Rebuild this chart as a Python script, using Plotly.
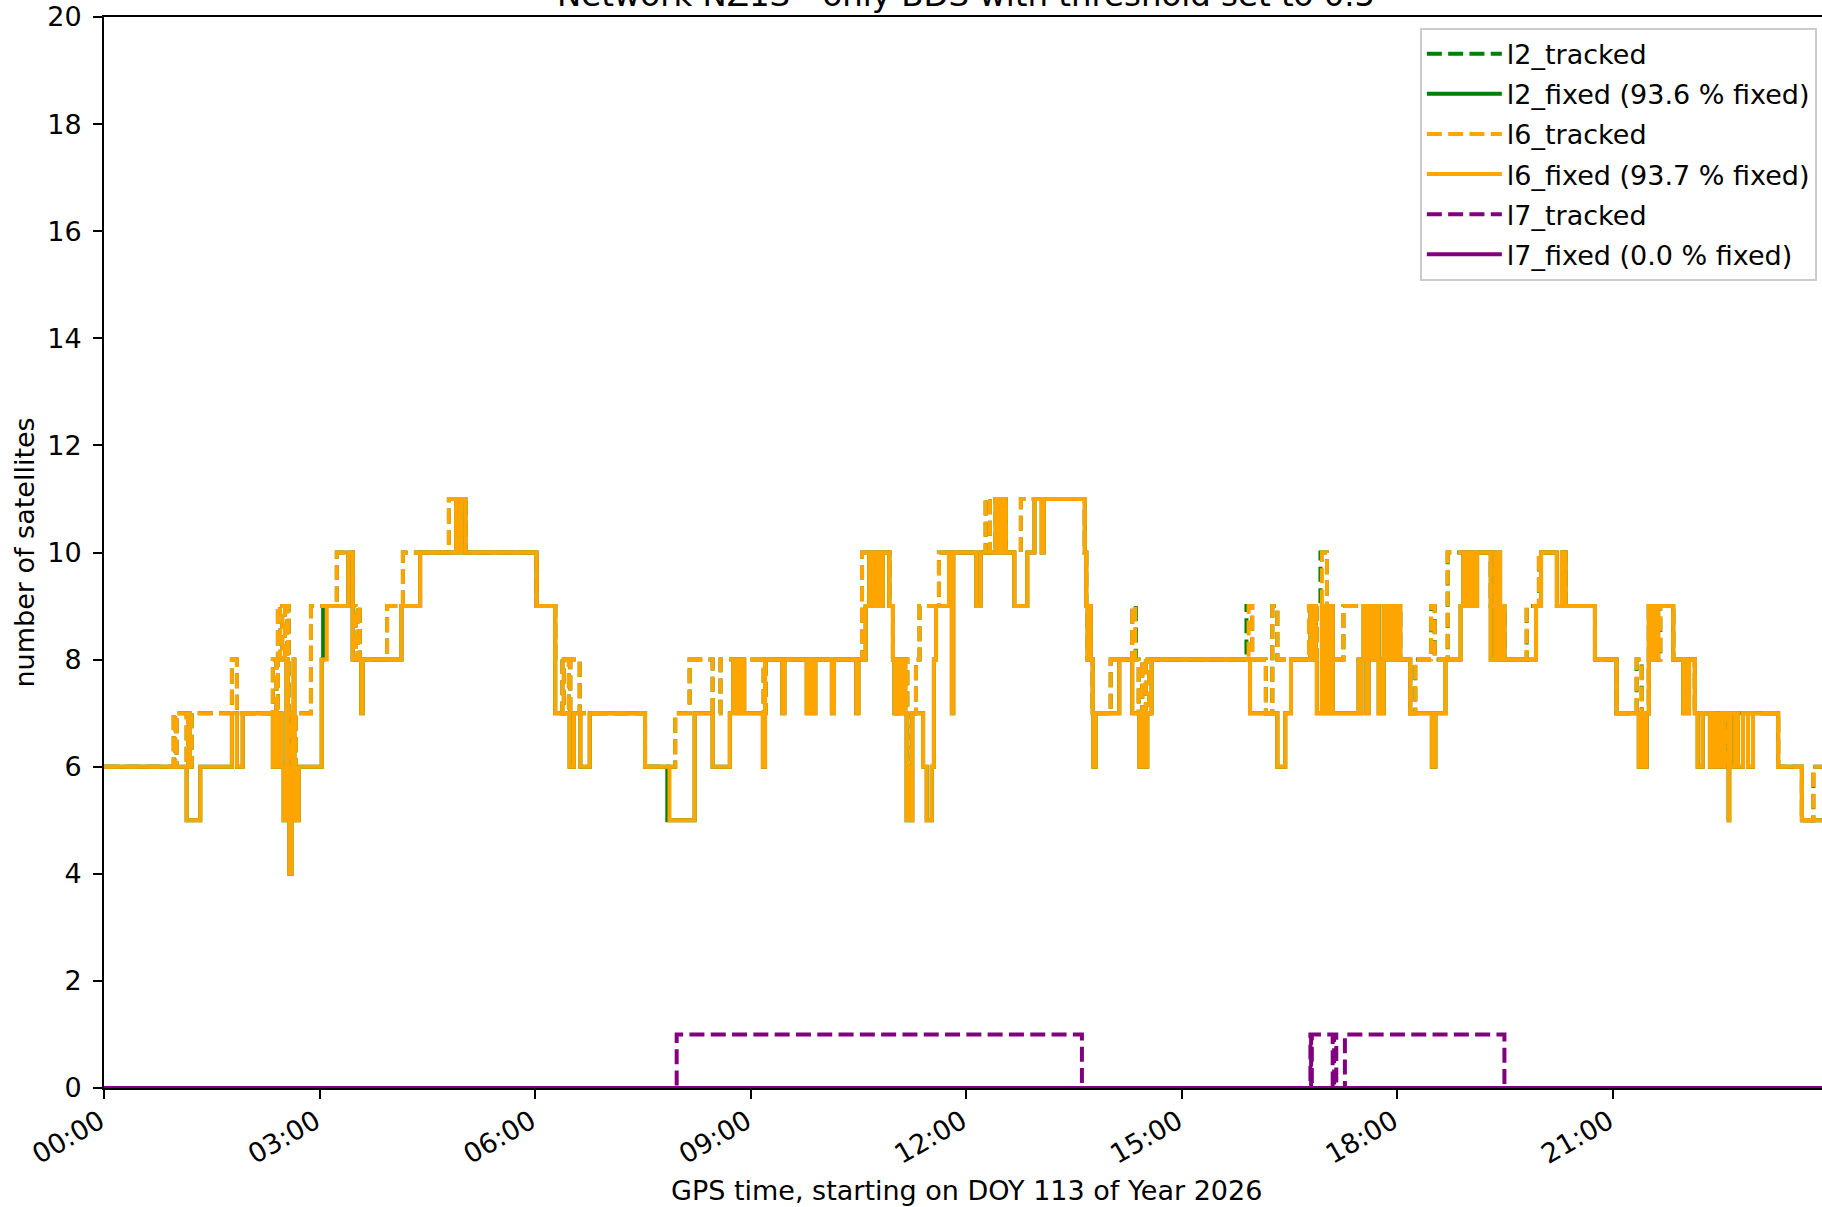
import pandas as pd
import plotly.graph_objects as go

DAY = "2026-04-23"
END_H = 24.0
RANGE_END_H = 23.91

TITLE = "Network NZ1S - only BDS with threshold set to 0.5"
X_LABEL = "GPS time, starting on DOY 113 of Year 2026"
Y_LABEL = "number of satellites"

# ---- l6 fixed (hours, satellites) ----
l6_fixed_t = [0.00, 1.15, 1.34, 1.78, 1.85, 1.93, 2.35, 2.37, 2.39, 2.41, 2.43, 2.45, 2.47, 2.50, 2.52, 2.54,
              2.56, 2.58, 2.61, 2.62, 2.64, 2.65, 2.67, 2.69, 2.71, 3.03, 3.10, 3.40, 3.46, 3.58, 3.60, 4.14,
              4.40, 4.90, 4.94, 4.97, 5.03, 6.02, 6.28, 6.48, 6.54, 6.63, 6.76, 7.53, 7.87, 8.22, 8.47, 8.71,
              8.76, 8.79, 8.82, 8.85, 8.88, 8.91, 9.17, 9.20, 9.44, 9.47, 9.78, 9.83, 9.86, 9.90, 10.13, 10.16,
              10.47, 10.50, 10.60, 10.65, 10.70, 10.72, 10.76, 10.78, 10.82, 10.84, 10.93, 10.98, 11.00, 11.05,
              11.08, 11.12, 11.15, 11.17, 11.20, 11.22, 11.25, 11.40, 11.45, 11.52, 11.55, 11.58, 11.76, 11.80,
              11.82, 12.14, 12.20, 12.41, 12.45, 12.47, 12.50, 12.52, 12.55, 12.67, 12.85, 12.95, 13.05, 13.08,
              13.65, 13.67, 13.69, 13.71, 13.73, 13.76, 13.77, 13.80, 14.13, 14.31, 14.41, 14.43, 14.45, 14.48,
              14.50, 14.52, 14.58, 15.95, 16.33, 16.44, 16.52, 16.79, 16.82, 16.84, 16.86, 16.88, 16.95, 16.99,
              17.02, 17.05, 17.08, 17.10, 17.46, 17.48, 17.50, 17.53, 17.55, 17.57, 17.60, 17.63, 17.65, 17.68,
              17.70, 17.74, 17.76, 17.78, 17.81, 17.84, 17.88, 17.91, 17.94, 17.97, 18.00, 18.04, 18.18, 18.48,
              18.53, 18.67, 18.88, 18.92, 18.95, 18.98, 19.01, 19.04, 19.07, 19.11, 19.30, 19.36, 19.38, 19.40,
              19.43, 19.46, 19.49, 19.93, 20.00, 20.22, 20.29, 20.34, 20.75, 21.05, 21.36, 21.40, 21.42, 21.47,
              21.50, 21.55, 21.57, 21.60, 21.62, 21.84, 21.98, 22.00, 22.03, 22.06, 22.14, 22.18, 22.25, 22.35,
              22.38, 22.40, 22.43, 22.45, 22.47, 22.51, 22.55, 22.61, 22.62, 22.64, 22.70, 22.74, 22.81, 22.88,
              22.95, 23.30, 23.63]
l6_fixed_v = [6, 5, 6, 7, 6, 7, 6, 7, 6, 7, 6, 7, 6, 5, 6, 8,
              5, 4, 6, 5, 8, 5, 6, 5, 6, 8, 9, 10, 8, 7, 8, 9,
              10, 11, 10, 11, 10, 9, 7, 6, 7, 6, 7, 6, 5, 7, 6, 7,
              8, 7, 8, 7, 8, 7, 6, 8, 7, 8, 7, 8, 7, 8, 7, 8,
              7, 8, 9, 10, 9, 10, 9, 10, 9, 10, 9, 8, 7, 8,
              7, 8, 7, 5, 6, 5, 7, 6, 5, 6, 8, 9, 10, 7,
              10, 9, 10, 11, 10, 11, 10, 11, 10, 9, 10, 11, 10, 11,
              10, 9, 8, 9, 8, 7, 6, 7, 8, 7, 6, 7, 6, 7,
              6, 7, 8, 7, 6, 7, 8, 9, 8, 9, 8, 7, 9, 7,
              9, 7, 9, 7, 8, 7, 8, 9, 8, 7, 9, 8, 9, 8,
              9, 7, 8, 7, 9, 8, 9, 8, 9, 8, 9, 8, 7, 6,
              7, 8, 9, 10, 9, 10, 9, 10, 9, 10, 8, 10, 8, 10,
              8, 9, 8, 9, 10, 9, 10, 9, 8, 7, 6, 7, 6, 7,
              9, 8, 9, 8, 9, 8, 7, 8, 7, 8, 7, 6, 7, 6,
              7, 6, 7, 6, 7, 6, 7, 5, 7, 6, 7, 6, 7, 6,
              7, 6, 5]

# ---- l6 tracked ----
l6_tracked_t = [0.00, 0.97, 0.99, 1.01, 1.15, 1.17, 1.19, 1.22, 1.78, 1.85, 2.35, 2.40, 2.42, 2.45, 2.48, 2.52,
                2.55, 2.57, 2.60, 2.62, 2.64, 2.67, 2.88, 3.24, 3.46, 3.50, 3.53, 3.56, 3.94, 4.16, 4.80, 5.03,
                6.02, 6.28, 6.38, 6.40, 6.47, 6.49, 6.62, 7.53, 7.95, 8.15, 8.47, 8.58, 9.18, 9.21, 10.55, 10.93,
                10.98, 11.03, 11.06, 11.12, 11.15, 11.18, 11.24, 11.30, 11.35, 11.62, 12.27, 12.33, 12.41, 12.55,
                12.76, 13.65, 13.67, 13.69, 13.71, 13.73, 13.76, 14.01, 14.31, 14.35, 14.40, 14.45, 14.50, 14.55,
                15.93, 15.98, 16.17, 16.26, 16.33, 16.77, 16.86, 16.88, 16.95, 17.02, 17.05, 17.08, 17.10, 17.25,
                18.04, 18.18, 18.25, 18.47, 18.52, 18.70, 19.30, 19.49, 19.80, 19.97, 20.34, 20.75, 21.05, 21.33,
                21.40, 21.50, 21.63, 21.66, 21.84, 22.14, 22.57, 22.61, 23.30, 23.63, 23.79]
l6_tracked_v = [6, 7, 6, 7, 6, 7, 6, 7, 8, 7, 8, 7, 9, 8, 9, 8,
                9, 7, 6, 7, 6, 7, 9, 10, 9, 8, 9, 8, 9, 10, 11, 10,
                9, 8, 7, 8, 7, 8, 7, 6, 7, 8, 7, 8, 7, 8, 10, 9,
                8, 7, 8, 7, 8, 6, 7, 8, 9, 10, 11, 10, 11, 10,
                11, 10, 9, 8, 9, 8, 7, 8, 9, 8, 7, 8, 7, 8,
                9, 8, 7, 9, 8, 9, 8, 9, 10, 9, 8, 9, 8, 9,
                8, 7, 8, 9, 8, 10, 9, 8, 9, 10, 9, 8, 7, 8,
                7, 9, 8, 9, 8, 7, 6, 7, 6, 5, 6]

# ---- l2 fixed ----
l2_fixed_t = [0.00, 1.15, 1.34, 1.78, 1.85, 1.93, 2.35, 2.37, 2.39, 2.41, 2.43, 2.45, 2.47, 2.50, 2.52, 2.54,
              2.56, 2.58, 2.61, 2.62, 2.64, 2.65, 2.67, 2.69, 2.71, 3.03, 3.05, 3.40, 3.46, 3.58, 3.60, 4.14,
              4.40, 4.90, 4.94, 4.97, 5.03, 6.02, 6.28, 6.48, 6.54, 6.63, 6.76, 7.53, 7.84, 8.22, 8.47, 8.71,
              8.76, 8.79, 8.82, 8.85, 8.88, 8.91, 9.17, 9.20, 9.44, 9.47, 9.78, 9.83, 9.86, 9.90, 10.13, 10.16,
              10.47, 10.50, 10.60, 10.65, 10.70, 10.72, 10.76, 10.78, 10.82, 10.84, 10.93, 10.98, 11.00, 11.05,
              11.08, 11.12, 11.15, 11.17, 11.20, 11.22, 11.25, 11.40, 11.45, 11.52, 11.55, 11.58, 11.76, 11.80,
              11.82, 12.14, 12.20, 12.41, 12.45, 12.47, 12.50, 12.52, 12.55, 12.67, 12.85, 12.95, 13.05, 13.08,
              13.65, 13.67, 13.69, 13.71, 13.73, 13.76, 13.77, 13.80, 14.13, 14.31, 14.41, 14.43, 14.45, 14.48,
              14.50, 14.52, 14.58, 15.95, 16.33, 16.44, 16.52, 16.79, 16.82, 16.84, 16.86, 16.88, 16.95, 16.99,
              17.02, 17.05, 17.08, 17.10, 17.46, 17.48, 17.50, 17.53, 17.55, 17.57, 17.60, 17.63, 17.65, 17.68,
              17.70, 17.74, 17.76, 17.78, 17.81, 17.84, 17.88, 17.91, 17.94, 17.97, 18.00, 18.04, 18.18, 18.48,
              18.53, 18.67, 18.88, 18.92, 18.95, 18.98, 19.01, 19.04, 19.07, 19.11, 19.30, 19.36, 19.38, 19.40,
              19.43, 19.46, 19.49, 19.93, 20.00, 20.22, 20.29, 20.34, 20.75, 21.05, 21.36, 21.40, 21.42, 21.47,
              21.50, 21.55, 21.57, 21.60, 21.62, 21.84, 21.98, 22.00, 22.03, 22.06, 22.14, 22.18, 22.25, 22.35,
              22.38, 22.40, 22.43, 22.45, 22.47, 22.51, 22.55, 22.61, 22.62, 22.64, 22.70, 22.74, 22.81, 22.88,
              22.95, 23.30, 23.63]
l2_fixed_v = [6, 5, 6, 7, 6, 7, 6, 7, 6, 7, 6, 7, 6, 5, 6, 8,
              5, 4, 6, 5, 8, 5, 6, 5, 6, 8, 9, 10, 8, 7, 8, 9,
              10, 11, 10, 11, 10, 9, 7, 6, 7, 6, 7, 6, 5, 7, 6, 7,
              8, 7, 8, 7, 8, 7, 6, 8, 7, 8, 7, 8, 7, 8, 7, 8,
              7, 8, 9, 10, 9, 10, 9, 10, 9, 10, 9, 8, 7, 8,
              7, 8, 7, 5, 6, 5, 7, 6, 5, 6, 8, 9, 10, 7,
              10, 9, 10, 11, 10, 11, 10, 11, 10, 9, 10, 11, 10, 11,
              10, 9, 8, 9, 8, 7, 6, 7, 8, 7, 6, 7, 6, 7,
              6, 7, 8, 7, 6, 7, 8, 9, 8, 9, 8, 7, 9, 7,
              9, 7, 9, 7, 8, 7, 8, 9, 8, 7, 9, 8, 9, 8,
              9, 7, 8, 7, 9, 8, 9, 8, 9, 8, 9, 8, 7, 6,
              7, 8, 9, 10, 9, 10, 9, 10, 9, 10, 8, 10, 8, 10,
              8, 9, 8, 9, 10, 9, 10, 9, 8, 7, 6, 7, 6, 7,
              9, 8, 9, 8, 9, 8, 7, 8, 7, 8, 7, 6, 7, 6,
              7, 6, 7, 6, 7, 6, 7, 5, 7, 6, 7, 6, 7, 6,
              7, 6, 5]

# ---- l2 tracked ----
l2_tracked_t = [0.00, 0.97, 0.99, 1.01, 1.15, 1.17, 1.19, 1.22, 1.78, 1.85, 2.35, 2.40, 2.42, 2.45, 2.48, 2.52,
                2.55, 2.57, 2.60, 2.62, 2.64, 2.67, 2.88, 3.24, 3.46, 3.50, 3.53, 3.56, 3.94, 4.16, 4.80, 5.03,
                6.02, 6.28, 6.38, 6.40, 6.47, 6.49, 6.62, 7.53, 7.95, 8.15, 8.47, 8.58, 9.18, 9.21, 10.55, 10.93,
                10.98, 11.03, 11.06, 11.12, 11.15, 11.18, 11.24, 11.30, 11.35, 11.62, 12.27, 12.33, 12.41, 12.55,
                12.76, 13.65, 13.67, 13.69, 13.71, 13.73, 13.76, 14.01, 14.31, 14.36, 14.40, 14.45, 14.50, 14.55,
                15.90, 15.98, 16.17, 16.26, 16.33, 16.77, 16.86, 16.88, 16.93, 17.02, 17.05, 17.08, 17.10, 17.25,
                17.60, 17.62, 18.04, 18.18, 18.25, 18.47, 18.52, 18.70, 19.30, 19.49, 19.80, 19.97, 20.34, 20.75,
                21.05, 21.33, 21.40, 21.50, 21.63, 21.66, 21.84, 22.14, 22.57, 22.61, 23.30, 23.63, 23.79]
l2_tracked_v = [6, 7, 6, 7, 6, 7, 6, 7, 8, 7, 8, 7, 9, 8, 9, 8,
                9, 7, 6, 7, 6, 7, 9, 10, 9, 8, 9, 8, 9, 10, 11, 10,
                9, 8, 7, 8, 7, 8, 7, 6, 7, 8, 7, 8, 7, 8, 10, 9,
                8, 7, 8, 7, 8, 6, 7, 8, 9, 10, 11, 10, 11, 10,
                11, 10, 9, 8, 9, 8, 7, 8, 9, 8, 7, 8, 7, 8,
                9, 8, 7, 9, 8, 9, 8, 9, 10, 9, 8, 9, 8, 9,
                8, 9, 8, 7, 8, 9, 8, 10, 9, 8, 9, 10, 9, 8,
                7, 8, 7, 9, 8, 9, 8, 7, 6, 7, 6, 5, 6]

# ---- l7 ----
l7_tracked_t = [0.00, 7.97, 13.61, 16.79, 16.80, 16.81, 17.10, 17.12, 17.15, 17.27, 19.49]
l7_tracked_v = [0, 1, 0, 1, 0, 1, 0, 1, 0, 1, 0]
l7_fixed_t = [0.00]
l7_fixed_v = [0]

SERIES = [
    ("l2_tracked", l2_tracked_t, l2_tracked_v, "#008000", "dash"),
    ("l2_fixed (93.6 % fixed)", l2_fixed_t, l2_fixed_v, "#008000", "solid"),
    ("l6_tracked", l6_tracked_t, l6_tracked_v, "#FFA500", "dash"),
    ("l6_fixed (93.7 % fixed)", l6_fixed_t, l6_fixed_v, "#FFA500", "solid"),
    ("l7_tracked", l7_tracked_t, l7_tracked_v, "#800080", "dash"),
    ("l7_fixed (0.0 % fixed)", l7_fixed_t, l7_fixed_v, "#800080", "solid"),
]

base = pd.Timestamp(DAY)


def to_xy(t, v):
    tt = list(t) + [END_H]
    vv = list(v) + [v[-1]]
    x = base + pd.to_timedelta(tt, unit="h")
    return x, vv


FONT = "DejaVu Sans"
FS = 27
fig = go.Figure()
for i, (name, t, v, color, style) in enumerate(SERIES):
    x, y = to_xy(t, v)
    fig.add_trace(go.Scatter(
        x=x, y=y, mode="lines", name=name, legendgroup=f"g{i}",
        line=dict(color=color, width=4, shape="hv",
                  dash="15px,6.3px" if style == "dash" else "solid"),
    ))

x_end = base + pd.to_timedelta(RANGE_END_H, unit="h")

fig.update_layout(
    width=1822, height=1207,
    margin=dict(l=104, r=0, t=17, b=119),
    paper_bgcolor="white", plot_bgcolor="white",
    font=dict(family=FONT, size=FS, color="black"),
    showlegend=True,
    legend=dict(x=0.997, y=0.99, xanchor="right", yanchor="top",
                bgcolor="rgba(255,255,255,0.8)", bordercolor="#cccccc", borderwidth=2,
                font=dict(family=FONT, size=FS, color="black"),
                tracegroupgap=2, itemwidth=75),
    xaxis=dict(type="date", range=[base, x_end], tickformat="%H:%M",
               tick0=base, dtick=3 * 3600 * 1000, tickangle=-30,
               showgrid=False, zeroline=False, showline=True, mirror=True,
               linecolor="black", linewidth=2, ticks="outside", ticklen=9,
               tickwidth=2, tickcolor="black", tickfont=dict(size=FS, family=FONT),
               ticklabelstandoff=-4, ticklabelshift=-4),
    yaxis=dict(range=[0, 20], dtick=2, showgrid=False, zeroline=False,
               showline=True, linecolor="black", linewidth=2, ticks="outside",
               ticklen=9, tickwidth=2, tickcolor="black",
               tickfont=dict(size=FS, family=FONT), ticklabelstandoff=6),
    annotations=[
        dict(text=X_LABEL, xref="paper", yref="paper", x=0.502, y=0, yanchor="middle",
             yshift=-102, showarrow=False, font=dict(size=FS, family=FONT)),
        dict(text=Y_LABEL, xref="paper", yref="paper", x=0, y=0.5, xanchor="center",
             xshift=-80, textangle=-90, showarrow=False, font=dict(size=FS, family=FONT)),
        dict(text=TITLE, xref="paper", yref="paper", x=0.502, y=1, yanchor="middle",
             yshift=22, showarrow=False, font=dict(size=32.4, family=FONT)),
    ],
)

fig.write_html("out.html")
